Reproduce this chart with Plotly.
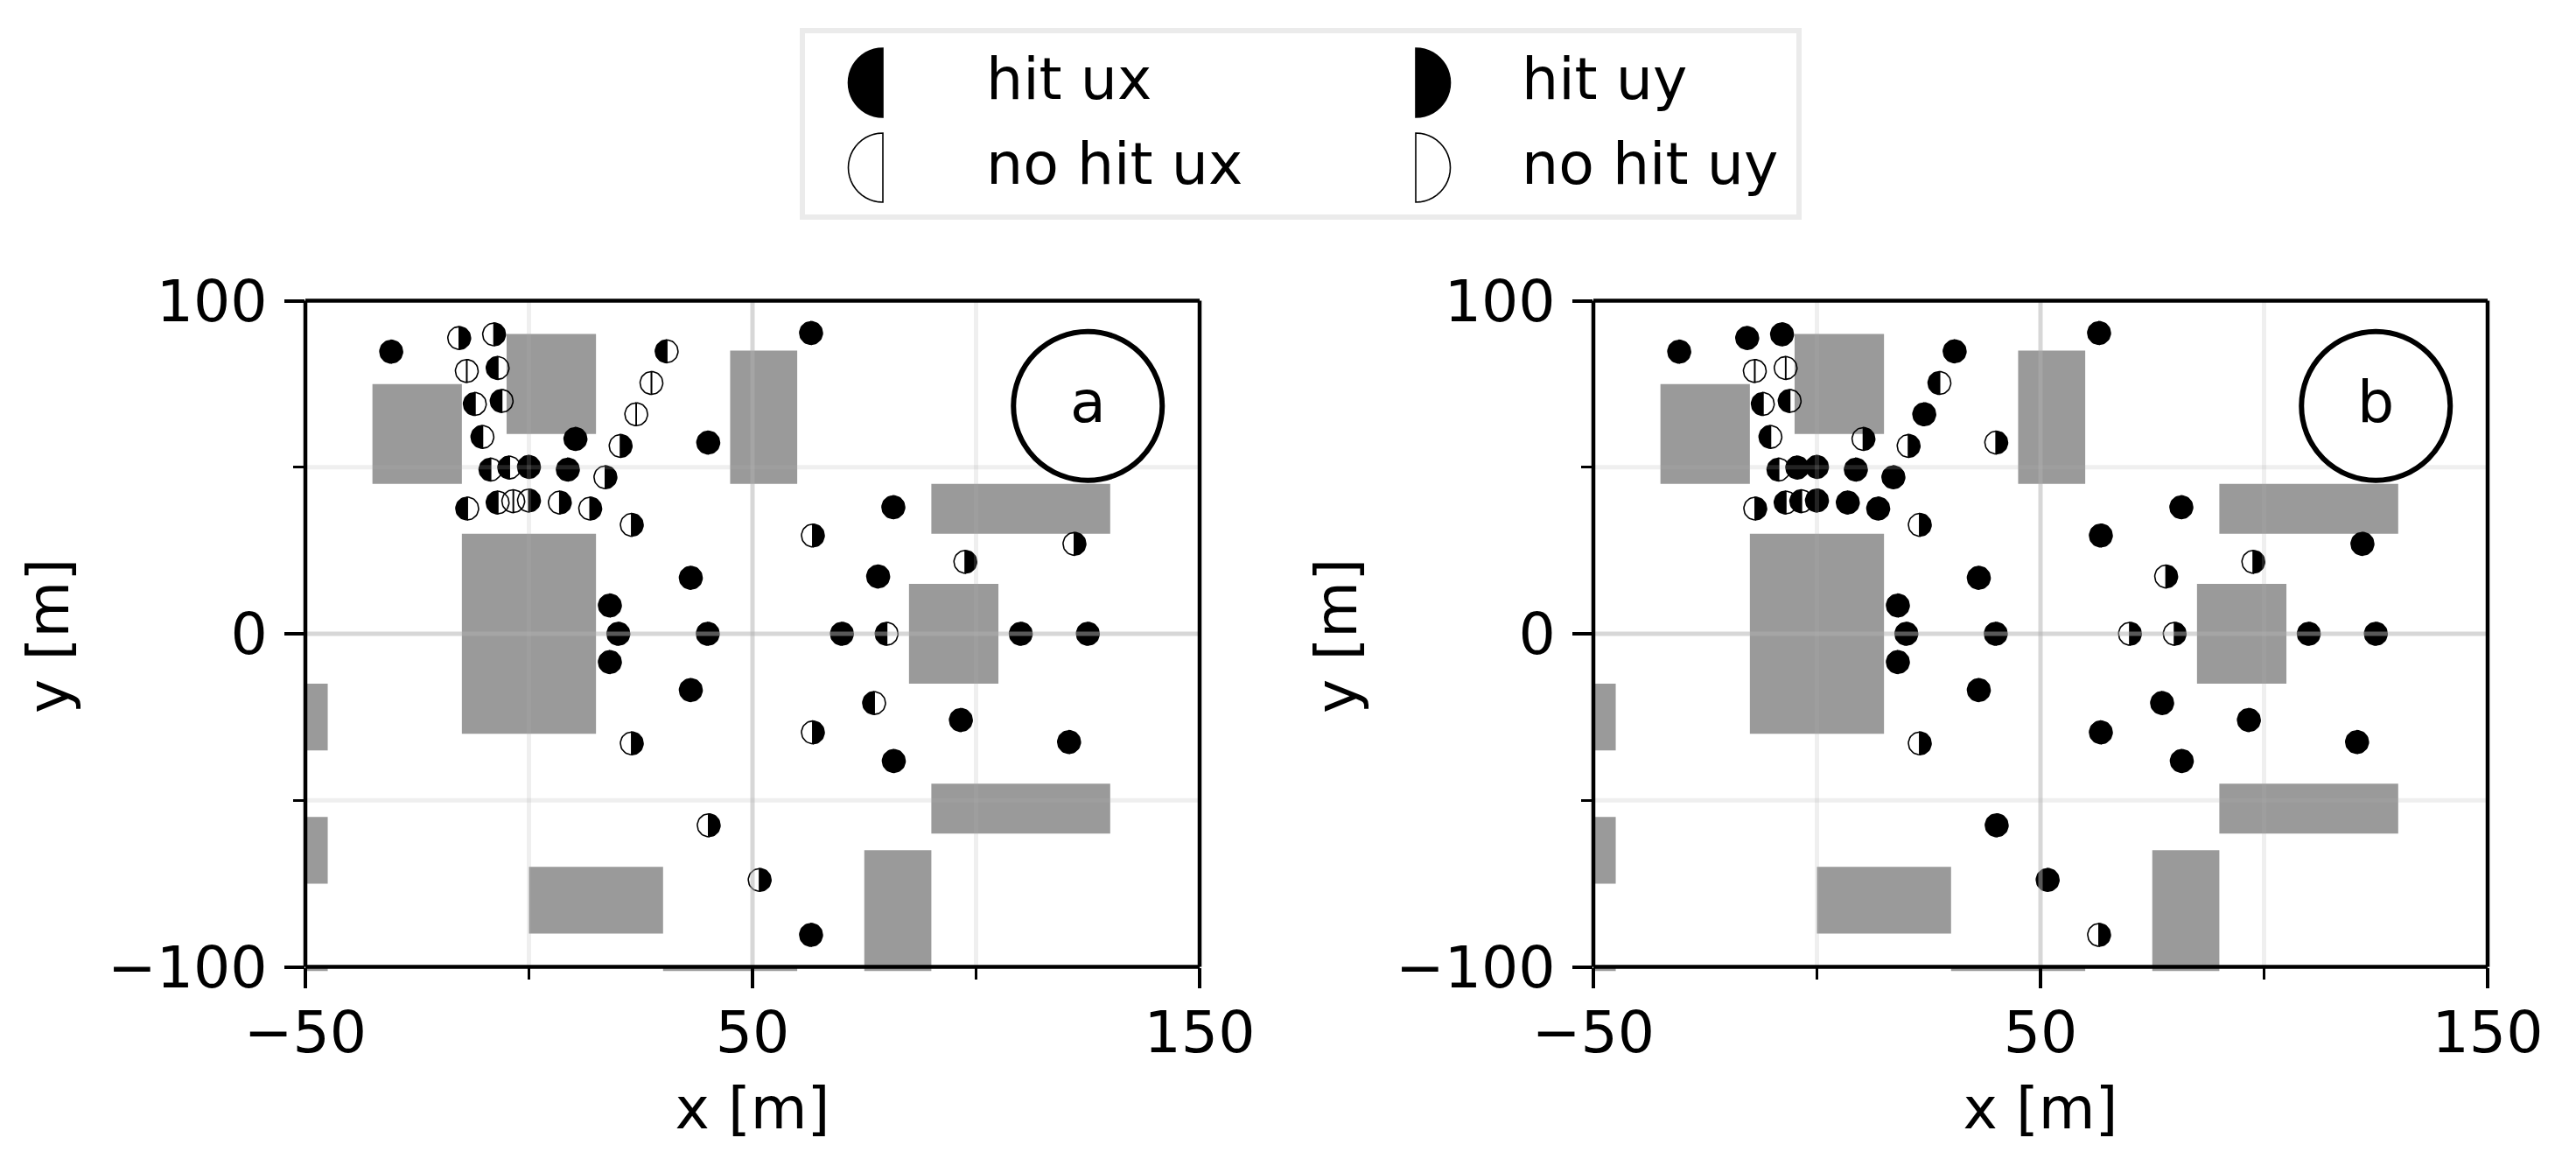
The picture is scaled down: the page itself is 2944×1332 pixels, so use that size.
import math
import plotly.graph_objects as go

W, H = 2944, 1332

# ---- data ---------------------------------------------------------------
point_x = [-30.8, -15.6, -7.8, -13.9, -7.0, -12.1, -6.1, -10.4, 10.4, -8.6, -4.4, 0.0, 8.7,
           17.1, 20.5, 24.0, 27.4, 30.8, 40.1, -13.8, -7.0, -3.5, 0.0, 6.9, 13.7, 23.0, 36.2,
           63.1, 81.5, 63.5, 97.6, 122.0, 78.1, 70.0, 80.0, 110.0, 125.0,
           18.1, 20.0, 18.1, 40.0, 36.2, 77.2, 96.6, 120.8, 81.6, 63.5, 23.0, 40.2, 51.6, 63.1]
point_y = [84.7, 88.8, 89.9, 78.9, 79.8, 69.0, 69.9, 59.1, 58.5, 49.3, 49.9, 50.1, 49.3,
           47.0, 56.4, 65.9, 75.3, 84.8, 57.4, 37.6, 39.4, 39.8, 40.0, 39.4, 37.6, 32.7, 16.8,
           90.3, 38.0, 29.5, 21.6, 27.0, 17.2, 0.0, 0.0, 0.0, 0.0,
           8.5, 0.0, -8.5, 0.0, -16.9, -20.8, -25.9, -32.5, -38.2, -29.6, -32.9, -57.5, -73.9, -90.4]

ux_hit_a = [1, 0, 0, 0, 1, 1, 1, 1, 1, 1, 1, 1, 1,
            0, 0, 0, 0, 1, 1, 1, 1, 0, 0, 0, 0, 0, 1,
            1, 1, 0, 0, 0, 1, 1, 1, 1, 1,
            1, 1, 1, 1, 1, 1, 1, 1, 1, 0, 0, 0, 0, 1]
uy_hit_a = [1, 1, 1, 0, 0, 0, 0, 0, 1, 0, 0, 1, 1,
            1, 1, 0, 0, 0, 1, 0, 0, 0, 1, 1, 1, 1, 1,
            1, 1, 1, 1, 1, 1, 1, 0, 1, 1,
            1, 1, 1, 1, 1, 0, 1, 1, 1, 1, 1, 1, 1, 1]
ux_hit_b = [1, 1, 1, 0, 0, 1, 1, 1, 0, 1, 1, 1, 1,
            1, 0, 1, 1, 1, 0, 0, 1, 1, 1, 1, 1, 0, 1,
            1, 1, 1, 0, 1, 0, 0, 0, 1, 1,
            1, 1, 1, 1, 1, 1, 1, 1, 1, 1, 0, 1, 1, 0]
uy_hit_b = [1, 1, 1, 0, 0, 0, 0, 0, 1, 0, 1, 1, 1,
            1, 1, 1, 0, 1, 1, 1, 0, 0, 1, 1, 1, 1, 1,
            1, 1, 1, 1, 1, 1, 1, 1, 1, 1,
            1, 1, 1, 1, 1, 1, 1, 1, 1, 1, 1, 1, 1, 1]

# buildings: x0, x1, y0, y1 (the lowest ones run a little past the y = -100 line)
bldg_x0 = [-35, -5, 45, -15, 90, 85, 90, 0, 75, 30, -50, -50, -50]
bldg_x1 = [-15, 15, 60, 15, 130, 105, 130, 30, 90, 60, -45, -45, -45]
bldg_y0 = [45, 60, 45, -30, 30, -15, -60, -90, -101.3, -101.3, -35, -75, -101.3]
bldg_y1 = [75, 90, 85, 30, 45, 15, -45, -70, -65, -100, -15, -55, -100]

x_major = [-50, 50, 150]
x_major_text = ["\u221250", "50", "150"]
x_minor = [0, 100]
y_major = [-100, 0, 100]
y_major_text = ["\u2212100", "0", "100"]
y_minor = [-50, 50]
panel_labels = ["a", "b"]
legend_labels = [["hit ux", "hit uy"], ["no hit ux", "no hit uy"]]

# ---- layout constants ---------------------------------------------------
FONT = "DejaVu Sans"
FS = 66.5
PANEL_LEFT = [349, 1821]
PANEL_W = 1022
TOP, BOT = 343.5, 1104.5
XR = (-50, 150)
YR = (-100, 100)
PXM_X = PANEL_W / (XR[1] - XR[0])
PXM_Y = (BOT - TOP) / (YR[1] - YR[0])
Y_LOW = bldg_y0[8]
BOT_EXT = BOT + (YR[0] - Y_LOW) * PXM_Y
R = 13
SPINE = 4.5


def halfdisc(cx, cy, rx, ry, side):
    """Closed half-ellipse outline around (cx, cy); side -1 = left, +1 = right."""
    xs, ys = [], []
    n = 24
    for i in range(n + 1):
        t = -math.pi / 2 + math.pi * i / n
        xs.append(cx + side * rx * math.cos(t))
        ys.append(cy + ry * math.sin(t) * side)
    xs.append(xs[0])
    ys.append(ys[0])
    return xs, ys


def half_trace(px, py, flags, want, side, name, axis_suffix):
    xs, ys = [], []
    for x, y, f in zip(px, py, flags):
        if f == want:
            a, b = halfdisc(x, y, R / PXM_X, R / PXM_Y, side)
            xs += a + [None]
            ys += b + [None]
    kw = dict(fill="toself", fillcolor="black") if want else dict(fill="none")
    return go.Scatter(x=xs, y=ys, mode="lines", name=name, showlegend=False, hoverinfo="skip",
                      line=dict(color="black", width=1.6), xaxis="x" + axis_suffix,
                      yaxis="y" + axis_suffix, **kw)


def pap_x(px):
    return px / W


def pap_y(py):
    return 1 - py / H


fig = go.Figure()
shapes, annots = [], []
layout = {}

for k, (ux, uy) in enumerate([(ux_hit_a, uy_hit_a), (ux_hit_b, uy_hit_b)]):
    sfx = "" if k == 0 else "2"
    xref, yref = "x" + sfx, "y" + sfx

    for x0, x1, y0, y1 in zip(bldg_x0, bldg_x1, bldg_y0, bldg_y1):
        shapes.append(dict(type="rect", xref=xref, yref=yref, x0=x0, x1=x1, y0=y0, y1=y1,
                           fillcolor="#9a9a9a", line=dict(width=0), layer="below"))

    fig.add_trace(half_trace(point_x, point_y, ux, 0, -1, "no hit ux", sfx))
    fig.add_trace(half_trace(point_x, point_y, uy, 0, 1, "no hit uy", sfx))
    fig.add_trace(half_trace(point_x, point_y, ux, 1, -1, "hit ux", sfx))
    fig.add_trace(half_trace(point_x, point_y, uy, 1, 1, "hit uy", sfx))

    # grid sits on top of the markers in the reference
    for v, a in [(50, 0.5)] + [(m, 0.2) for m in x_minor]:
        shapes.append(dict(type="line", xref=xref, yref=yref, x0=v, x1=v, y0=YR[0], y1=YR[1],
                           line=dict(color=f"rgba(176,176,176,{a})", width=5), layer="above"))
    for v, a in [(0, 0.5)] + [(m, 0.2) for m in y_minor]:
        shapes.append(dict(type="line", xref=xref, yref=yref, x0=XR[0], x1=XR[1], y0=v, y1=v,
                           line=dict(color=f"rgba(176,176,176,{a})", width=5), layer="above"))

    # panel badge
    shapes.append(dict(type="circle", xref=xref, yref=yref, xsizemode="pixel", ysizemode="pixel",
                       xanchor=125, yanchor=68.4, x0=-85, x1=85, y0=-85, y1=85,
                       fillcolor="white", line=dict(color="black", width=6), layer="above"))
    annots.append(dict(x=125, y=68.4, xref=xref, yref=yref, text=panel_labels[k], showarrow=False,
                       font=dict(family=FONT, size=FS, color="black"), yshift=5,
                       xanchor="center", yanchor="middle"))

    L = PANEL_LEFT[k]
    # spines centred on the data limits, as in the reference
    for (xa, ya, xb, yb) in [(L, TOP, L + PANEL_W, TOP), (L, BOT, L + PANEL_W, BOT),
                             (L, TOP, L, BOT), (L + PANEL_W, TOP, L + PANEL_W, BOT)]:
        shapes.append(dict(type="line", xref="paper", yref="paper", x0=pap_x(xa), x1=pap_x(xb),
                           y0=pap_y(ya), y1=pap_y(yb), line=dict(color="black", width=SPINE),
                           layer="above"))

    dom_y = [1 - BOT_EXT / H, 1 - TOP / H]
    layout["xaxis" + sfx] = dict(
        domain=[L / W, (L + PANEL_W) / W], range=list(XR), anchor="free", position=1 - BOT / H,
        tickmode="array", tickvals=x_major, ticktext=x_major_text,
        ticks="outside", ticklen=23, tickwidth=4, tickcolor="black",
        showline=False, showgrid=False, zeroline=False,
        tickfont=dict(family=FONT, size=FS, color="black"), ticklabelstandoff=-6,
        minor=dict(tickmode="array", tickvals=x_minor, ticks="outside", ticklen=13, tickwidth=3,
                   tickcolor="black", showgrid=False),
        title=dict(text="x [m]", font=dict(family=FONT, size=FS, color="black"), standoff=25),
        automargin=False, layer="above traces")
    layout["yaxis" + sfx] = dict(
        domain=dom_y, range=[Y_LOW, YR[1]], anchor="x" + sfx,
        tickmode="array", tickvals=y_major, ticktext=y_major_text,
        ticks="outside", ticklen=23, tickwidth=4, tickcolor="black",
        showline=False, showgrid=False, zeroline=False,
        tickfont=dict(family=FONT, size=FS, color="black"), ticklabelstandoff=6,
        minor=dict(tickmode="array", tickvals=y_minor, ticks="outside", ticklen=13, tickwidth=3,
                   tickcolor="black", showgrid=False),
        title=dict(text="y [m]", font=dict(family=FONT, size=FS, color="black"), standoff=22),
        automargin=False, layer="above traces")

# ---- hand-built legend, laid out in paper pixels -------------------------
shapes.append(dict(type="rect", xref="paper", yref="paper", x0=pap_x(917), x1=pap_x(2056),
                   y0=pap_y(248), y1=pap_y(35), fillcolor="white",
                   line=dict(color="#ebebeb", width=6)))

LEG_R = 39.5
leg_cols = [(1009, -1, 1125), (1618, 1, 1737)]
leg_rows = [(94.5, True), (191.5, False)]
for r, (cy, filled) in enumerate(leg_rows):
    for c, (edge, side, tx) in enumerate(leg_cols):
        xs, ys = halfdisc(edge, cy, LEG_R, LEG_R, side)
        path = "M" + " L".join(f"{pap_x(a):.6f},{pap_y(b):.6f}" for a, b in zip(xs, ys)) + " Z"
        shapes.append(dict(type="path", xref="paper", yref="paper", path=path,
                           fillcolor="black" if filled else "rgba(0,0,0,0)",
                           line=dict(color="black", width=1.6)))
        annots.append(dict(x=pap_x(tx), y=pap_y(cy - 4), xref="paper", yref="paper",
                           text=legend_labels[r][c], showarrow=False,
                           font=dict(family=FONT, size=FS, color="black"),
                           xanchor="left", yanchor="middle"))

fig.update_layout(width=W, height=H, autosize=False, margin=dict(l=0, r=0, t=0, b=0, pad=0),
                  paper_bgcolor="white", plot_bgcolor="white", showlegend=False,
                  shapes=shapes, annotations=annots, **layout)

fig.write_html("out.html", config=dict(displayModeBar=False),
               post_script="document.body.style.margin='0';document.body.style.overflow='hidden';")
